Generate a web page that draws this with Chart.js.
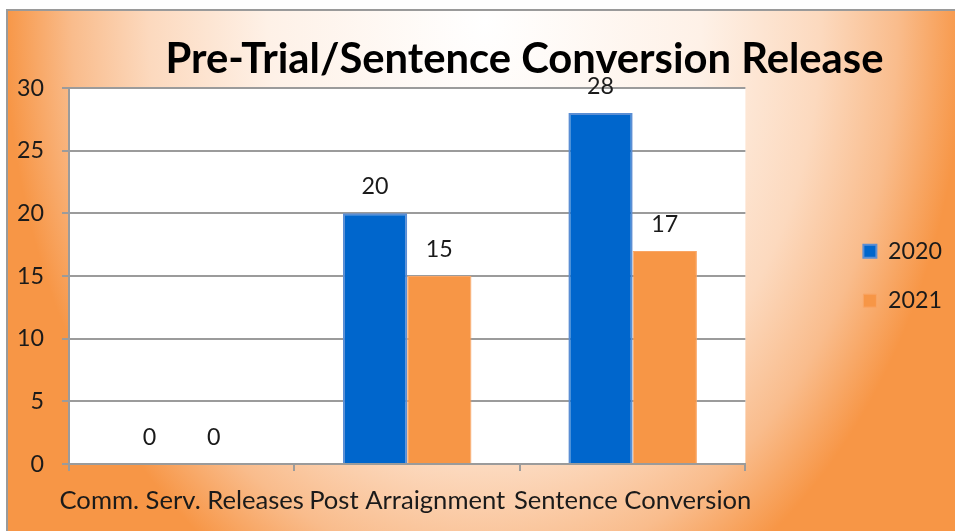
<!DOCTYPE html>
<html><head><meta charset="utf-8">
<script src="https://cdn.jsdelivr.net/npm/chart.js@4.4.1/dist/chart.umd.min.js"></script>
<style>html,body{margin:0;padding:0;background:#fff;overflow:hidden}canvas{display:block}</style>
</head><body>
<canvas id="c" width="955" height="531"></canvas>
<script>
const titleText = 'Pre-Trial/Sentence Conversion Release';
const categories = ['Comm. Serv. Releases', 'Post Arraignment', 'Sentence Conversion'];
const seriesNames = ['2020', '2021'];
const values2020 = [0, 20, 28];
const values2021 = [0, 15, 17];
const yMin = 0, yMax = 30, yStep = 5;

const FONT = 'Lato, "Open Sans", sans-serif';
const TEXT = '#1a1a1a';
const GRID = '#9b9b9b';

function fitSize(text, weight, target, base) {
  const c = document.createElement('canvas').getContext('2d');
  c.font = weight + ' ' + base + 'px ' + FONT;
  return base * target / c.measureText(text).width;
}
const titleSize = fitSize(titleText, 'bold', 718, 38);
const catSize = fitSize(categories[0] + categories[2], 'normal', 482, 22);
const numSize = fitSize('30', 'normal', 27, 23);
const titleMid = 60;

const bgPlugin = {
  id: 'bg',
  beforeDraw(chart) {
    const {ctx, width, height, chartArea} = chart;
    ctx.save();
    ctx.fillStyle = '#fff';
    ctx.fillRect(0, 0, width, height);
    ctx.save();
    ctx.beginPath();
    ctx.rect(7, 10, width - 7, height - 10);
    ctx.clip();
    ctx.translate(485, 20);
    ctx.scale(1, 640 / 480);
    const g = ctx.createRadialGradient(0, 0, 0, 0, 0, 480);
    g.addColorStop(0, '#FFFFFF');
    g.addColorStop(0.45, '#FEF1E7');
    g.addColorStop(0.7, '#FCD9BE');
    g.addColorStop(0.86, '#F9BC8C');
    g.addColorStop(1, '#F79646');
    ctx.fillStyle = g;
    ctx.fillRect(-3000, -3000, 6000, 6000);
    ctx.restore();
    ctx.strokeStyle = '#9a9a9a';
    ctx.lineWidth = 2;
    ctx.beginPath();
    ctx.moveTo(7, height); ctx.lineTo(7, 10); ctx.lineTo(width, 10);
    ctx.stroke();
    ctx.fillStyle = '#fff';
    ctx.fillRect(chartArea.left, chartArea.top, chartArea.right - chartArea.left, chartArea.bottom - chartArea.top);
    ctx.restore();
  },
  afterLayout(chart) {
    if (chart.titleBlock) chart.titleBlock.left = 97;
  }
};

const labelPlugin = {
  id: 'vals',
  afterDatasetsDraw(chart) {
    const {ctx} = chart;
    ctx.save();
    ctx.font = numSize + 'px ' + FONT;
    ctx.fillStyle = TEXT;
    ctx.textAlign = 'center';
    ctx.textBaseline = 'middle';
    chart.data.datasets.forEach((ds, i) => {
      chart.getDatasetMeta(i).data.forEach((el, j) => {
        ctx.fillText(String(ds.data[j]), el.x, el.y - 26.5);
      });
    });
    ctx.restore();
  }
};

new Chart(document.getElementById('c'), {
  type: 'bar',
  data: {
    labels: categories,
    datasets: [
      { label: seriesNames[0], data: values2020, backgroundColor: '#0066CC', borderColor: '#5B8ED4', borderWidth: 2, categoryPercentage: 0.57, barPercentage: 1.0 },
      { label: seriesNames[1], data: values2021, backgroundColor: '#F79646', borderColor: '#F9A565', borderWidth: 1, categoryPercentage: 0.57, barPercentage: 1.0 }
    ]
  },
  options: {
    responsive: false,
    animation: false,
    layout: { padding: { left: 0, top: 0, bottom: 0, right: 3 } },
    plugins: {
      title: {
        display: true, text: titleText, color: '#000',
        font: { family: FONT, size: titleSize, weight: 'bold', lineHeight: 1.2 },
        padding: { top: titleMid - titleSize * 0.6, bottom: 88 - (titleMid - titleSize * 0.6) - titleSize * 1.2 }
      },
      legend: {
        position: 'right', fullSize: false, maxWidth: 118,
        labels: { color: TEXT, font: { family: FONT, size: numSize }, boxWidth: 13, boxHeight: 13, padding: 26 }
      },
      tooltip: { enabled: false }
    },
    scales: {
      x: {
        grid: { drawOnChartArea: false, drawTicks: true, tickLength: 7, color: GRID, lineWidth: 2 },
        border: { display: true, color: GRID, width: 2 },
        ticks: { color: TEXT, font: { family: FONT, size: catSize }, padding: 14, maxRotation: 0, minRotation: 0, autoSkip: false },
        afterFit(s) { s.height = 67; }
      },
      y: {
        min: yMin, max: yMax,
        grid: { color: GRID, lineWidth: 2, tickLength: 7, drawTicks: true },
        border: { display: true, color: GRID, width: 2 },
        ticks: { stepSize: yStep, color: TEXT, font: { family: FONT, size: numSize }, padding: 18 },
        afterFit(s) { s.width = 69; }
      },
      y2: {
        position: 'right', display: true,
        grid: { display: false, drawTicks: false },
        border: { display: false },
        ticks: { display: false },
        afterFit(s) { s.width = 92; }
      }
    }
  },
  plugins: [bgPlugin, labelPlugin]
});
</script>
</body></html>
